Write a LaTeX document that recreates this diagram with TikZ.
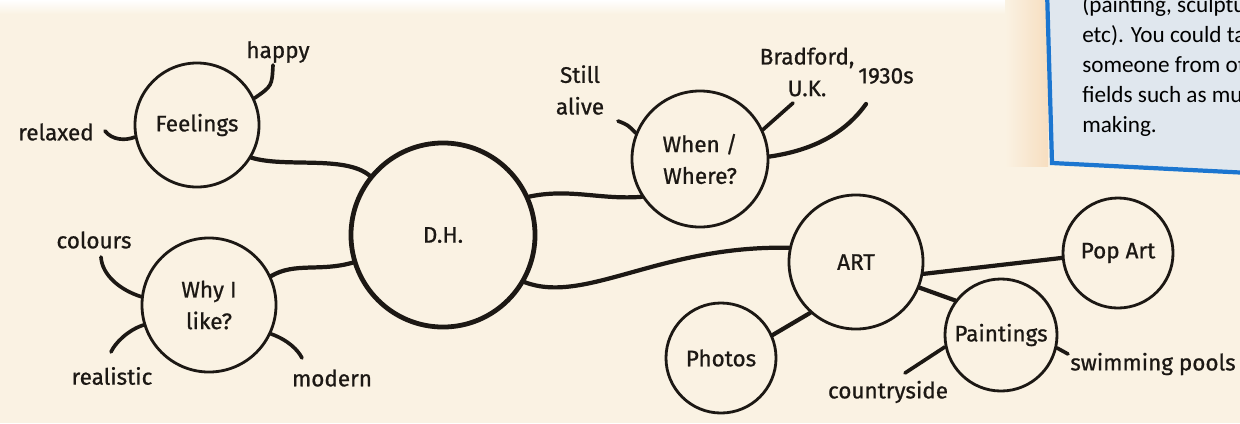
\documentclass[tikz,border=0pt]{standalone}
\usepackage{fontspec}
\setmainfont{Fira Sans}
\newfontfamily\hand{Fira Sans}[FakeBold=0.8]
\newfontfamily\notefont{Carlito}
\usetikzlibrary{positioning}
\definecolor{paper}{RGB}{250,242,227}
\definecolor{ink}{RGB}{28,24,20}
\definecolor{noteblue}{RGB}{28,118,208}
\definecolor{notefill}{RGB}{224,231,238}
\definecolor{peach}{RGB}{247,222,192}
\tikzset{
  bubble/.style={circle,draw=ink,line width=2pt,inner sep=0pt,align=center,text=ink,font=\hand\fontsize{16}{22.5}\selectfont},
  hub/.style={bubble,line width=3.4pt},
  leaf/.style={text=ink,align=center,inner sep=0pt,font=\hand\fontsize{16}{22.5}\selectfont},
  branch/.style={draw=ink,line width=3pt,line cap=round},
  twig/.style={draw=ink,line width=2.6pt,line cap=round},
  notetext/.style={text=black,inner sep=0pt,anchor=base west,font=\notefont\fontsize{16.5}{21}\selectfont}
}
\begin{document}
\begin{tikzpicture}[x=0.025cm,y=-0.025cm]
\useasboundingbox (0,0) rectangle (1240,423);
\clip (0,0) rectangle (1240,423);
\fill[paper] (0,0) rectangle (1240,423);
\shade[top color=white,bottom color=paper] (0,0) rectangle (1046,14);
\shade[left color=paper,right color=peach] (1005,0) rectangle (1048,166);

\draw[noteblue,fill=notefill,line width=3pt] (1047,-10) -- (1052,163) -- (1250,173) -- (1250,-10) -- cycle;
\node[notetext] (note1) at (1082,12) {(painting, sculptu};
\node[notetext] (note2) at (1082,42) {etc). You could ta};
\node[notetext] (note3) at (1082,72) {someone from ot};
\node[notetext] (note4) at (1082,102) {fields such as mu};
\node[notetext] (note5) at (1082,132) {making.};

\node[bubble,minimum size=3.1cm] (feel) at (197,125) {Feelings};
\node[hub,minimum size=4.6cm] (dh) at (443,235) {D.H.};
\node[bubble,minimum size=3.35cm] (why) at (209,305) {Why I\\like?};
\node[bubble,minimum size=3.4cm] (when) at (700,159) {When /\\Where?};
\node[bubble,minimum size=3.35cm] (art) at (856,262) {ART};
\node[bubble,minimum size=2.75cm] (pop) at (1118,253) {Pop Art};
\node[bubble,minimum size=2.8cm] (paint) at (1001,335) {Paintings};
\node[bubble,minimum size=2.75cm] (photo) at (721,358) {Photos};

\node[leaf] (happy) at (278,52) {happy};
\node[leaf] (relaxed) at (56,132) {relaxed};
\node[leaf] (colours) at (94,240) {colours};
\node[leaf] (realistic) at (112,376) {realistic};
\node[leaf] (modern) at (332,378) {modern};
\node[leaf] (still) at (580,90) {Still\\alive};
\node[leaf] (bradford) at (807,72) {Bradford,\\U.K.};
\node[leaf] (thirties) at (886,76) {1930s};
\node[leaf] (country) at (888,392) {countryside};
\node[leaf] (swim) at (1153,364) {swimming pools};

\coordinate (happyend) at (273,65);
\coordinate (relaxedend) at (105,131);
\coordinate (coloursend) at (101,257);
\coordinate (realisticend) at (111,352);
\coordinate (modernend) at (302,358);
\coordinate (stillend) at (618,121);
\coordinate (bradfordend) at (793,103);
\coordinate (thirtiesend) at (866,104);
\coordinate (countryend) at (905,373);
\coordinate (swimend) at (1068,354);

\draw[branch] (feel.-31) .. controls (285,168) and (345,155) .. (dh.141);
\draw[branch] (why.25) .. controls (295,262) and (320,272) .. (dh.197);
\draw[branch] (dh.24) .. controls (570,188) and (600,200) .. (when.213);
\draw[branch] (dh.-30) .. controls (585,305) and (660,245) .. (art.168);
\draw[branch] (when.2) .. controls (815,150) and (846,132) .. (thirtiesend);
\draw[branch] (art.-10) -- (pop.185);
\draw[branch] (art.-22) -- (paint.143);
\draw[branch] (art.228) -- (photo.24);

\draw[twig] (feel.25) .. controls (272,86) .. (happyend);
\draw[twig] (feel.191) .. controls (125,141) and (112,140) .. (relaxedend);
\draw[twig] (why.173) .. controls (120,290) and (102,275) .. (coloursend);
\draw[twig] (why.197) .. controls (128,330) and (115,343) .. (realisticend);
\draw[twig] (why.-25) .. controls (288,340) and (298,350) .. (modernend);
\draw[twig] (when.158) .. controls (628,125) .. (stillend);
\draw[twig] (when.25) -- (bradfordend);
\draw[twig] (paint.192) -- (countryend);
\draw[twig] (paint.-13) -- (swimend);
\end{tikzpicture}
\end{document}
